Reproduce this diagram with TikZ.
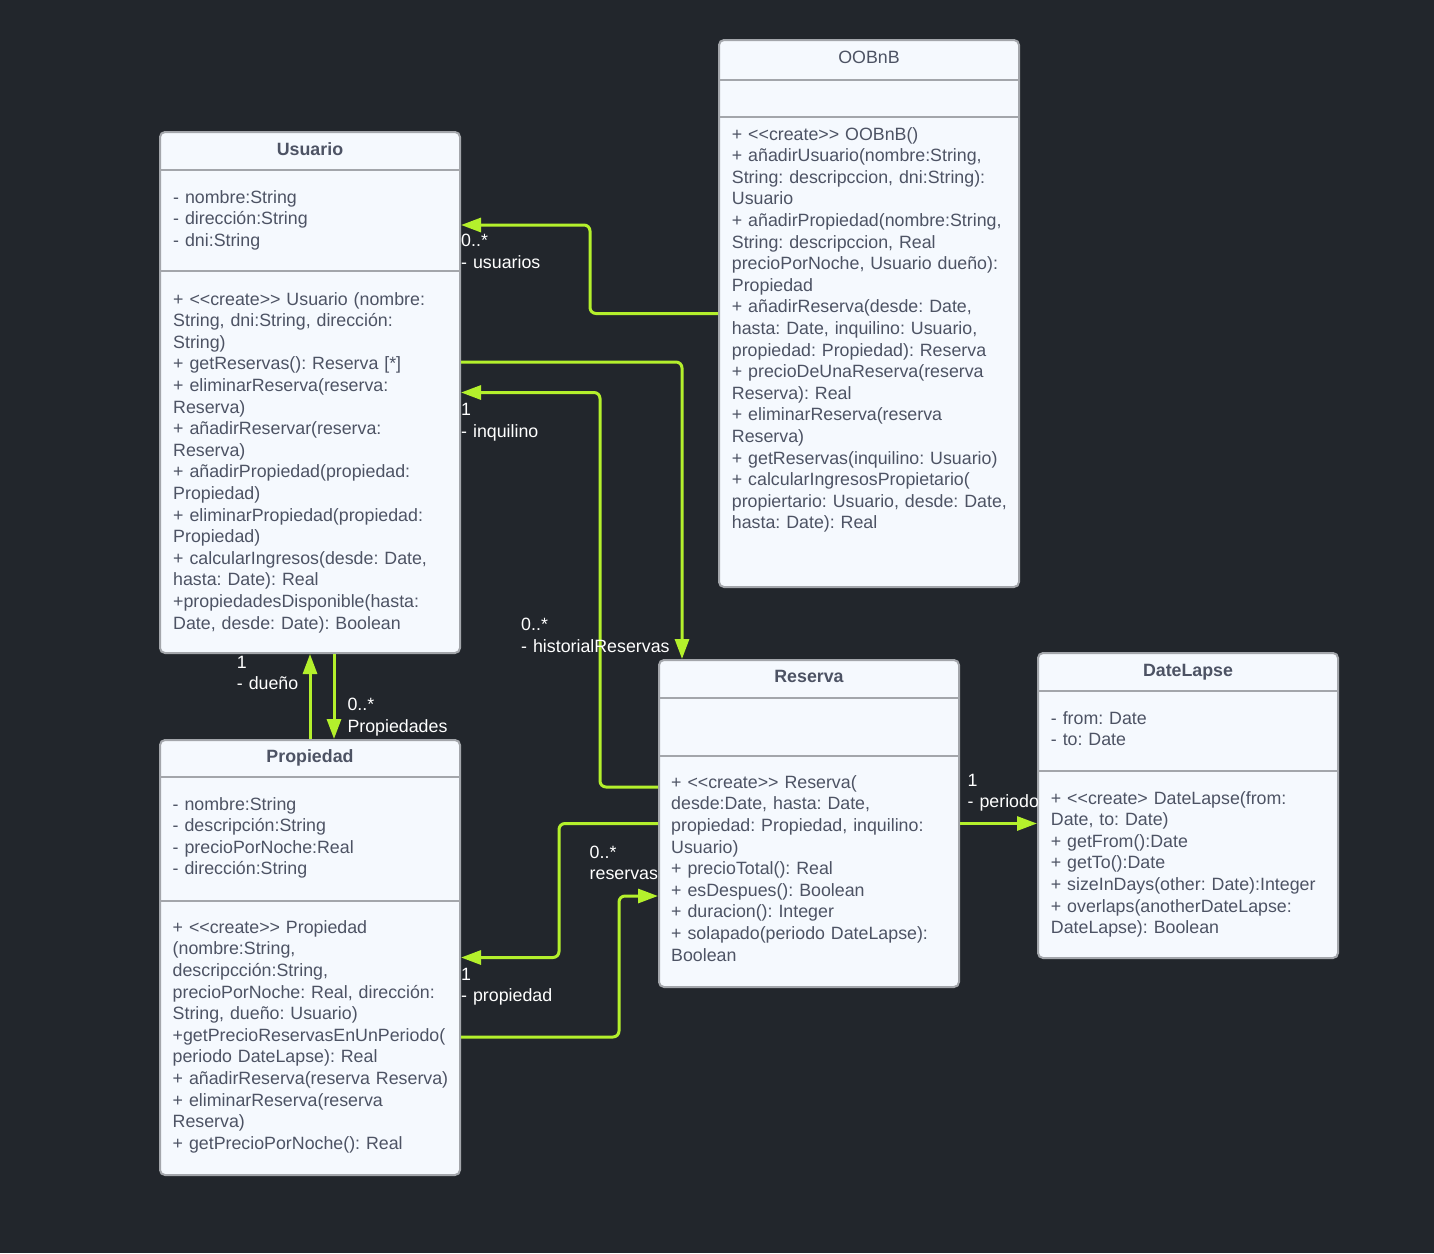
\documentclass[tikz,border=0pt]{standalone}
\usepackage{fontspec}
\setmainfont{Liberation Sans}
\usepackage{xcolor}
\usepackage{tikz}
\usetikzlibrary{arrows.meta}
\frenchspacing

\definecolor{bg}{HTML}{22262C}
\definecolor{boxfill}{HTML}{F5F9FE}
\definecolor{boxline}{HTML}{A3A6AB}
\definecolor{ink}{HTML}{4D5364}
\definecolor{lime}{HTML}{B4F02C}

\tikzset{
	classbox/.style={draw=boxline, fill=boxfill, line width=2pt, rounded corners=5pt, minimum width=300pt, inner sep=0pt},
	sepline/.style={draw=boxline, line width=2pt},
	classname/.style={anchor=base, inner sep=0pt, text=ink, font=\fontsize{17.8}{21.6}\selectfont},
	members/.style={anchor=base west, inner sep=0pt, text width=300pt, align=left, text=ink, font=\fontsize{17.8}{21.6}\selectfont},
	role/.style={anchor=base west, inner sep=0pt, text width=200pt, align=left, text=white, font=\fontsize{17.8}{21.6}\selectfont},
	assoc/.style={draw=lime, line width=3pt, rounded corners=6pt, -{Triangle[length=20pt,width=14pt]}}
}

\begin{document}
\begin{tikzpicture}[x=1pt, y=-1pt]
			\fill[bg] (0,0) rectangle (1434,1253);
			\useasboundingbox (0,0) rectangle (1434,1253);

			\node[classbox, minimum height=521pt] (usuario) at (310,392.5) {};
			\node[classbox, minimum height=547pt] (oobnb) at (869,313.5) {};
			\node[classbox, minimum height=435pt] (propiedad) at (310,957.5) {};
			\node[classbox, minimum height=327pt] (reserva) at (809,823.5) {};
			\node[classbox, minimum height=305pt] (datelapse) at (1188,805.5) {};

			\draw[sepline] (usuario.west |- 0,170) -- (usuario.east |- 0,170);
			\draw[sepline] (usuario.west |- 0,270.7) -- (usuario.east |- 0,270.7);
			\draw[sepline] (oobnb.west |- 0,80) -- (oobnb.east |- 0,80);
			\draw[sepline] (oobnb.west |- 0,117.3) -- (oobnb.east |- 0,117.3);
			\draw[sepline] (propiedad.west |- 0,777.3) -- (propiedad.east |- 0,777.3);
			\draw[sepline] (propiedad.west |- 0,901) -- (propiedad.east |- 0,901);
			\draw[sepline] (reserva.west |- 0,698) -- (reserva.east |- 0,698);
			\draw[sepline] (reserva.west |- 0,755.7) -- (reserva.east |- 0,755.7);
			\draw[sepline] (datelapse.west |- 0,691) -- (datelapse.east |- 0,691);
			\draw[sepline] (datelapse.west |- 0,771) -- (datelapse.east |- 0,771);

			\node[classname] (usuarioname) at (310,155) {\bfseries Usuario};
			\node[members] (usuarioattr) at (173,203.3) {- nombre:String\\- dirección:String\\- dni:String};
			\node[members] (usuarioops) at (173,305) {+ <{}<create>{}> Usuario (nombre:\\String, dni:String, dirección:\\String)\\+ getReservas(): Reserva [*]\\+ eliminarReserva(reserva:\\Reserva)\\+ añadirReservar(reserva:\\Reserva)\\+ añadirPropiedad(propiedad:\\Propiedad)\\+ eliminarPropiedad(propiedad:\\Propiedad)\\+ calcularIngresos(desde: Date,\\hasta: Date): Real\\+propiedadesDisponible(hasta:\\Date, desde: Date): Boolean};

			\node[classname] (oobnbname) at (869,63.3) {OOBnB};
			\node[members] (oobnbops) at (731.7,140) {+ <{}<create>{}> OOBnB()\\+ añadirUsuario(nombre:String,\\String: descripccion, dni:String):\\Usuario\\+ añadirPropiedad(nombre:String,\\String: descripccion, Real\\precioPorNoche, Usuario dueño):\\Propiedad\\+ añadirReserva(desde: Date,\\hasta: Date, inquilino: Usuario,\\propiedad: Propiedad): Reserva\\+ precioDeUnaReserva(reserva\\Reserva): Real\\+ eliminarReserva(reserva\\Reserva)\\+ getReservas(inquilino: Usuario)\\+ calcularIngresosPropietario(\\propiertario: Usuario, desde: Date,\\hasta: Date): Real};

			\node[classname] (propiedadname) at (310,762.7) {\bfseries Propiedad};
			\node[members] (propiedadattr) at (172.5,810) {- nombre:String\\- descripción:String\\- precioPorNoche:Real\\- dirección:String};
			\node[members] (propiedadops) at (172.5,933.3) {+ <{}<create>{}> Propiedad\\(nombre:String,\\descripcción:String,\\precioPorNoche: Real, dirección:\\String, dueño: Usuario)\\+getPrecioReservasEnUnPeriodo(\\periodo DateLapse): Real\\+ añadirReserva(reserva Reserva)\\+ eliminarReserva(reserva\\Reserva)\\+ getPrecioPorNoche(): Real};

			\node[classname] (reservaname) at (809,682.7) {\bfseries Reserva};
			\node[members] (reservaops) at (671,788.3) {+ <{}<create>{}> Reserva(\\desde:Date, hasta: Date,\\propiedad: Propiedad, inquilino:\\Usuario)\\+ precioTotal(): Real\\+ esDespues(): Boolean\\+ duracion(): Integer\\+ solapado(periodo DateLapse):\\Boolean};

			\node[classname] (datelapsename) at (1188,676) {\bfseries DateLapse};
			\node[members] (datelapseattr) at (1050.7,724) {- from: Date\\- to: Date};
			\node[members] (datelapseops) at (1050.7,804) {+ <{}<create> DateLapse(from:\\Date, to: Date)\\+ getFrom():Date\\+ getTo():Date\\+ sizeInDays(other: Date):Integer\\+ overlaps(anotherDateLapse:\\DateLapse): Boolean};

			\draw[assoc] (oobnb.west) -| (590,225) -- (usuario.east |- 0,225);
			\draw[assoc] (usuario.east |- 0,362) -| (reserva.north -| 682,0);
			\draw[assoc] (reserva.west |- 0,787) -| (600,392.5) -- (usuario.east);
			\draw[assoc] (reserva.west) -| (559,957.5) -- (propiedad.east);
			\draw[assoc] (propiedad.east |- 0,1037) -| (619,896) -- (reserva.west |- 0,896);
			\draw[assoc] (reserva.east) -- (reserva.east -| datelapse.west);
			\draw[assoc] (propiedad.north) -- (usuario.south);
			\draw[assoc] (usuario.south -| 334,0) -- (propiedad.north -| 334,0);

			\node[role] (usuarioslabel) at (461,246.7) {0..*\\- usuarios};
			\node[role] (inquilinolabel) at (461,415.5) {1\\- inquilino};
			\node[role] (historiallabel) at (521,630.7) {0..*\\- historialReservas};
			\node[role] (reservaslabel) at (589.5,858.3) {0..*\\reservas};
			\node[role] (propiedadlabel) at (461,980) {1\\- propiedad};
			\node[role] (periodolabel) at (967.5,786) {1\\- periodo};
			\node[role] (duenolabel) at (236.7,668) {1\\- dueño};
			\node[role] (propiedadeslabel) at (347.3,710.7) {0..*\\Propiedades};
		\end{tikzpicture}
\end{document}
